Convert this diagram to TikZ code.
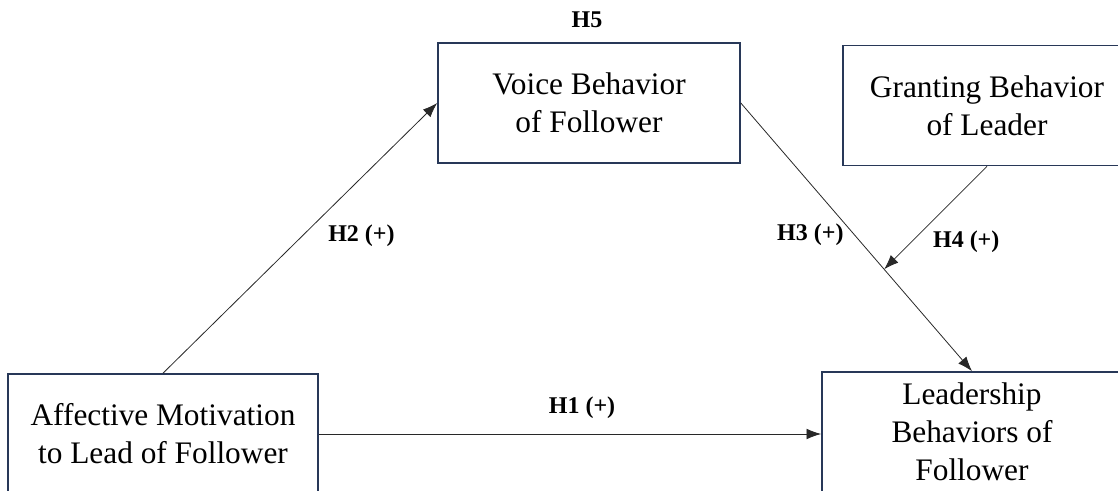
\documentclass[tikz,border=0pt]{standalone}
\usepackage{fontspec}
\setmainfont{Liberation Serif}
\usetikzlibrary{arrows.meta}
\definecolor{boxline}{RGB}{40,56,88}
\definecolor{arrline}{RGB}{40,40,40}
\tikzset{
  box/.style={draw=boxline,line width=1.2pt,minimum height=90pt,align=center,
    font=\fontsize{23.5}{28.5}\selectfont},
  arr/.style={draw=arrline,line width=0.6pt,-{Latex[length=11pt,width=8pt]}},
  lbl/.style={font=\fontsize{18}{21}\selectfont\bfseries}
}
\begin{document}
\begin{tikzpicture}[x=0.75pt,y=-0.75pt]
                \clip(0,0)rectangle(1118,490);
                \node(amtl)[box,minimum width=232.5pt]at(163,434){Affective Motivation\\to Lead of Follower};
                \node(voice)[box,minimum width=226.5pt]at(589,103){Voice Behavior\\of Follower};
                \node(grant)[box,minimum width=216pt]at(987,105.5){Granting Behavior\\of Leader};
                \node(lead)[box,minimum width=225pt]at(972,432){Leadership\\Behaviors of\\Follower};
                \node(h5)[lbl]at(587,20){H5};
                \draw[arr](amtl.north)--(voice.west)node[lbl,midway,xshift=46pt,yshift=2pt]{H2 (+)};
                \draw[arr](amtl.east)--(amtl.east-|lead.west)node[lbl,midway,xshift=9pt,yshift=19.5pt]{H1 (+)};
                \draw[arr](voice.east)--(lead.north)coordinate[pos=0.62](mod)node[lbl,midway,xshift=-34.5pt,yshift=2pt]{H3 (+)};
                \draw[arr](grant.south)--(mod)node[lbl,midway,xshift=23pt,yshift=-18pt]{H4 (+)};
            \end{tikzpicture}
\end{document}
